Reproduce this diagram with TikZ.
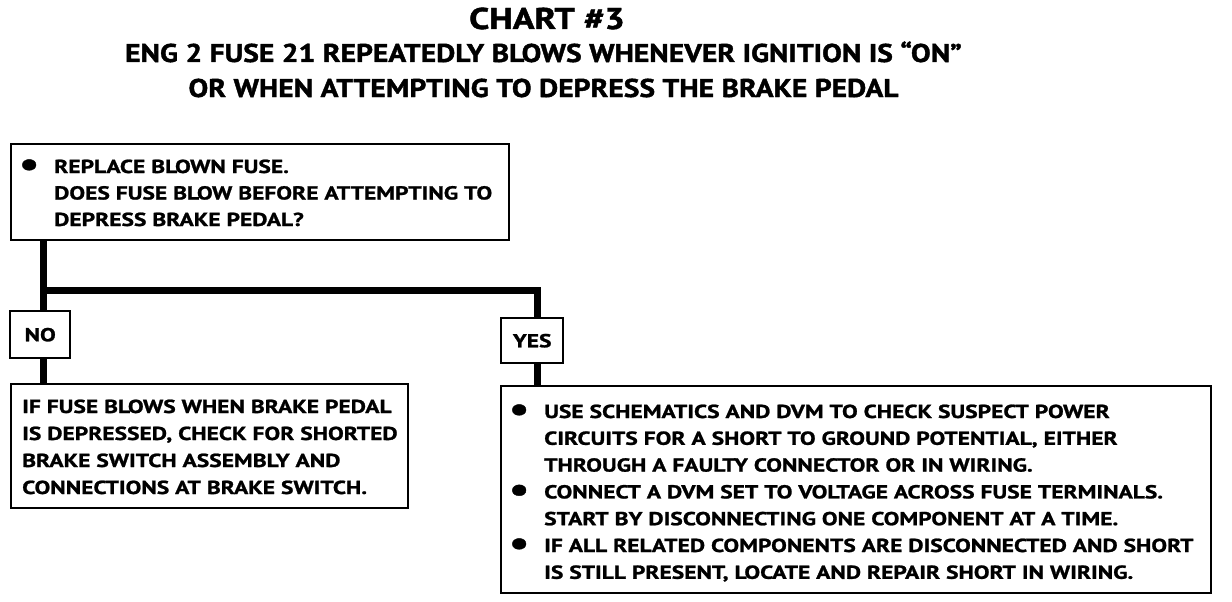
\documentclass[tikz,border=0pt]{standalone}
\usepackage{fontspec}
\setmainfont{PT Sans}
\newfontfamily\cfb{PT Sans}[FakeStretch=1.25,FakeBold=1.2]
\newfontfamily\cft{PT Sans}[FakeStretch=1.15,FakeBold=1.5]
\newfontfamily\cfc{PT Sans}[FakeStretch=1.2,FakeBold=1.5]
\newcommand\bul{\llap{\makebox[50pt][c]{\raisebox{-3pt}{\scalebox{1.9}{•}}}}}
\begin{document}
\begin{tikzpicture}[x=1pt,y=-1pt,
  frame/.style={draw,line width=2.4pt,inner sep=0pt,anchor=north west},
  lab/.style={draw,line width=2.4pt,inner sep=0pt,anchor=north west,font=\cfb\bfseries\fontsize{18.8}{20}\selectfont},
  txt/.style={inner sep=0pt,anchor=base west,font=\cfb\bfseries\fontsize{18.8}{20}\selectfont},
  ttl/.style={inner sep=0pt,anchor=base,font=\cft\bfseries\fontsize{25.7}{28}\selectfont},
  conn/.style={line width=7pt,line join=miter}]
\useasboundingbox[fill=white] (0,0) rectangle (1232,602);
% titles
\node[ttl,font=\cfc\bfseries\fontsize{30}{32}\selectfont] (t1) at (547,29) {CHART \#3};
\node[ttl] (t2) at (543.5,62) {ENG 2 FUSE 21 REPEATEDLY BLOWS WHENEVER IGNITION IS “ON”};
\node[ttl] (t3) at (543.5,97) {OR WHEN ATTEMPTING TO DEPRESS THE BRAKE PEDAL};
% boxes
\node[frame,minimum width=498pt,minimum height=96pt] (q) at (10,143) {};
\node[lab,minimum width=60pt,minimum height=47pt] (no) at (9,310) {NO};
\node[lab,minimum width=62pt,minimum height=45pt] (yes) at (500,317) {YES};
\node[frame,minimum width=397pt,minimum height=124pt] (nob) at (10,383) {};
\node[frame,minimum width=710pt,minimum height=207pt] (yesb) at (500,385) {};
% box texts
\node[txt] (qt) at (54,173) {\vtop{\baselineskip=26.5pt
  \hbox{\bul REPLACE BLOWN FUSE.}
  \hbox{DOES FUSE BLOW BEFORE ATTEMPTING TO}
  \hbox{DEPRESS BRAKE PEDAL?}}};
\node[txt] (nt) at (22,413) {\vtop{\baselineskip=27pt
  \hbox{IF FUSE BLOWS WHEN BRAKE PEDAL}
  \hbox{IS DEPRESSED, CHECK FOR SHORTED}
  \hbox{BRAKE SWITCH ASSEMBLY AND}
  \hbox{CONNECTIONS AT BRAKE SWITCH.}}};
\node[txt] (yt) at (544,418) {\vtop{\baselineskip=26.8pt
  \hbox{\bul USE SCHEMATICS AND DVM TO CHECK SUSPECT POWER}
  \hbox{CIRCUITS FOR A SHORT TO GROUND POTENTIAL, EITHER}
  \hbox{THROUGH A FAULTY CONNECTOR OR IN WIRING.}
  \hbox{\bul CONNECT A DVM SET TO VOLTAGE ACROSS FUSE TERMINALS.}
  \hbox{START BY DISCONNECTING ONE COMPONENT AT A TIME.}
  \hbox{\bul IF ALL RELATED COMPONENTS ARE DISCONNECTED AND SHORT}
  \hbox{IS STILL PRESENT, LOCATE AND REPAIR SHORT IN WIRING.}}};
% connectors
\coordinate (j1) at (43,290);
\coordinate (j2) at (537,290);
\draw[conn] (q.south -| j1) -- (no.north -| j1);
\draw[conn] (j1) -- (j2) -- (yes.north -| j2);
\draw[conn] (no.south -| j1) -- (nob.north -| j1);
\draw[conn] (yes.south -| j2) -- (yesb.north -| j2);
\end{tikzpicture}
\end{document}
